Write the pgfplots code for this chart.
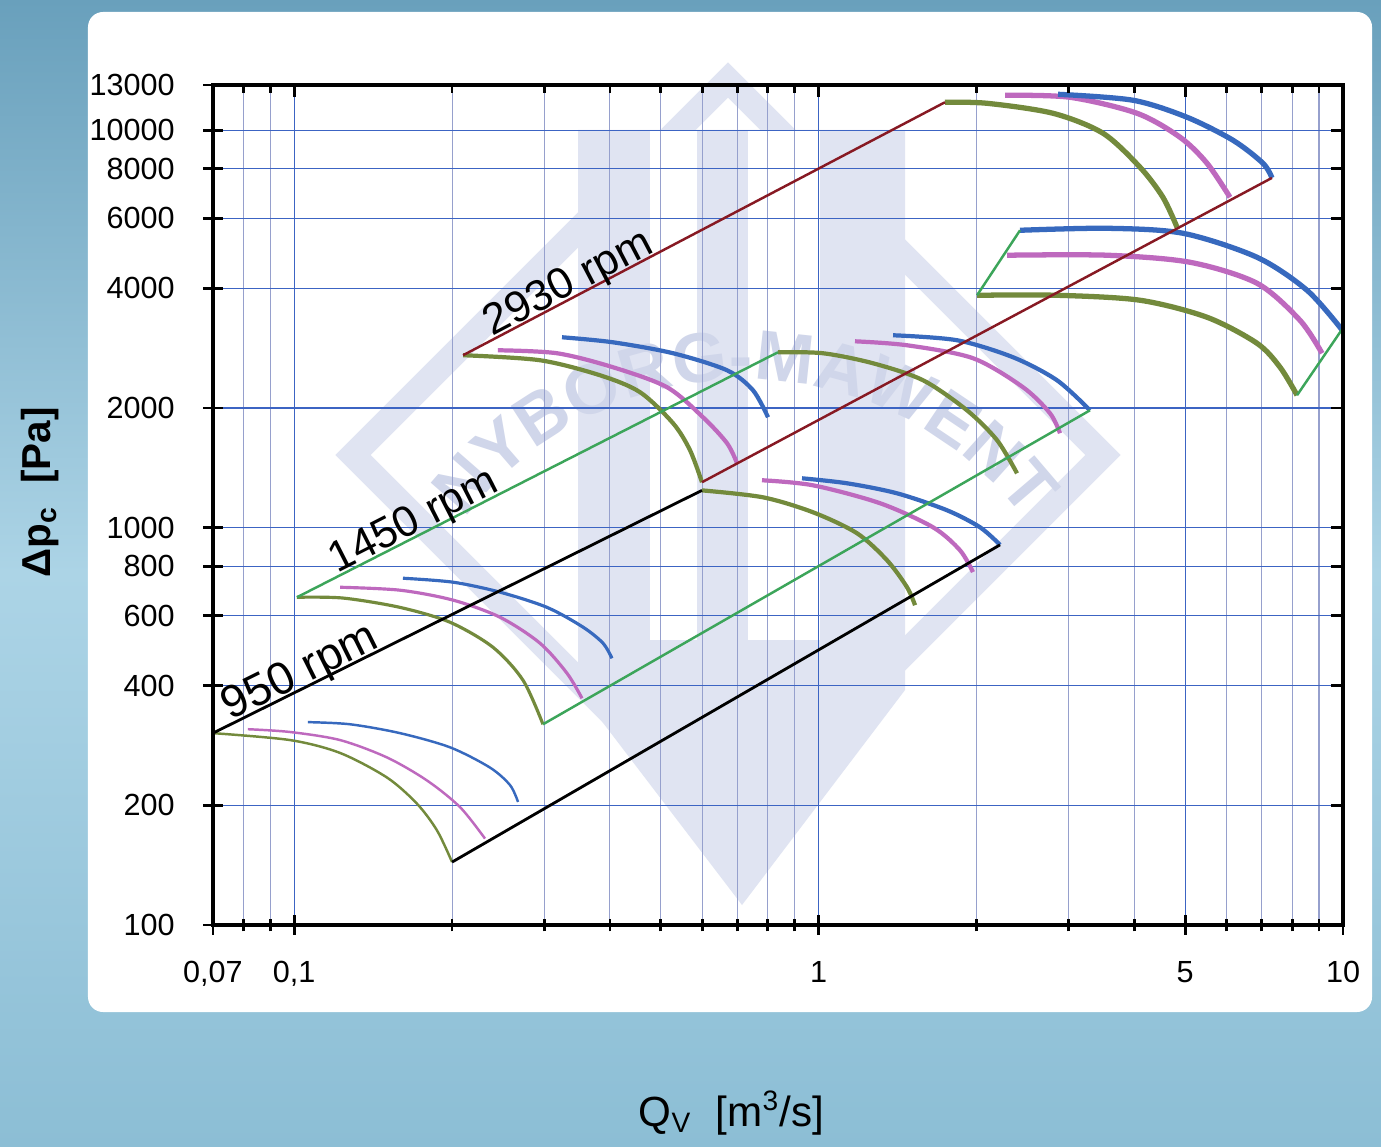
\documentclass[border=0pt]{standalone}
\usepackage{pgfplots}
\pgfplotsset{compat=1.18}
\usepackage{fontspec}
\setmainfont{Liberation Sans}
\usetikzlibrary{decorations.text}
\definecolor{olivec}{RGB}{115,138,60}
\definecolor{magc}{RGB}{190,105,190}
\definecolor{bluec}{RGB}{55,105,190}
\definecolor{greenl}{RGB}{60,165,90}
\definecolor{redl}{RGB}{135,25,35}
\definecolor{gridmin}{RGB}{150,160,205}
\definecolor{gridmaj}{RGB}{60,100,195}
\definecolor{bgtop}{RGB}{105,160,188}
\definecolor{bgmid}{RGB}{172,212,230}
\definecolor{bgbot}{RGB}{140,190,213}
\definecolor{wm}{RGB}{224,228,242}
\definecolor{wmtext}{RGB}{208,214,234}
\begin{document}
\begin{tikzpicture}
% background and panel
\shade[top color=bgtop, bottom color=bgbot, middle color=bgmid] (-21.3mm,-22.1mm) rectangle (116.8mm,92.5mm);
\fill[white, rounded corners=1.5mm] (-12.5mm,-8.7mm) rectangle (115.9mm,91.3mm);
% watermark
\draw[wm, line width=2.5mm, line join=miter] (14.0mm,47.0mm) -- (51.5mm,84.5mm) -- (89.0mm,47.0mm) -- (51.5mm,9.5mm) -- cycle;
\fill[wm] (36.5mm,79.5mm) -- (69.2mm,79.5mm) -- (69.2mm,23.5mm) -- (52.9mm,2.0mm) -- (36.5mm,23.5mm) -- cycle;
\fill[white] (43.7mm,28.5mm) rectangle (48.4mm,79.5mm);
\fill[white] (53.5mm,28.5mm) rectangle (60.7mm,79.5mm);
\path[decorate, decoration={text along path, text align=center,
  text={|\color{wmtext}\bfseries\fontsize{20}{20}\selectfont|NYBORG-MAWENT}}]
  (53.2mm,19.5mm) ++(160:35mm) arc[start angle=160, end angle=20, radius=35mm];
\begin{axis}[
  at={(0,0)}, anchor=south west,
  scale only axis, width=113mm, height=84mm,
  xmode=log, ymode=log,
  xmin=0.07, xmax=10, ymin=100, ymax=13000,
  xtick={0.07,0.1,1,5,10}, xticklabels={0{,}07,0{,}1,1,5,10},
  minor xtick={0.08,0.09,0.2,0.3,0.4,0.5,0.6,0.7,0.8,0.9,2,3,4,6,7,8,9},
  ytick={100,200,400,600,800,1000,2000,4000,6000,8000,10000,13000},
  yticklabels={100,200,400,600,800,1000,2000,4000,6000,8000,10000,13000},
  minor ytick={},
  xtick pos=left, ytick pos=left,
  grid=both,
  major grid style={gridmaj, line width=0.35pt},
  minor grid style={gridmin, line width=0.3pt},
  axis line style={black, line width=0.9pt},
  tick style={black, line width=0.8pt},
  tick align=center, major tick length=2mm, minor tick length=1.3mm,
  ticklabel style={font=\fontsize{8.7}{10}\selectfont},
  yticklabel style={xshift=-1.6mm},
  xticklabel style={yshift=-1.4mm},
  xlabel={Q\textsubscript{V}\ \ [m\textsuperscript{3}/s]},
  xlabel style={at={(axis description cs:0.459,-0.224)}, anchor=center, font=\fontsize{12}{14}\selectfont},
  ylabel={\bfseries Δp\textsubscript{c}\ \ [Pa]},
  ylabel style={at={(axis description cs:-0.153,0.515)}, anchor=center, font=\fontsize{11.5}{14}\selectfont},
]
% 950 rpm, small
\addplot[olivec, line width=0.7pt, smooth] coordinates {(0.0700,304) (0.0982,292) (0.1223,271) (0.1503,235) (0.1714,202) (0.1872,173) (0.2000,144)};
\addplot[magc, line width=0.7pt, smooth] coordinates {(0.0816,311) (0.0982,306) (0.1223,292) (0.1503,264) (0.1792,231) (0.2071,198) (0.2311,165)};
\addplot[bluec, line width=0.7pt, smooth] coordinates {(0.1062,324) (0.1278,320) (0.1591,304) (0.1982,280) (0.2362,249) (0.2579,225) (0.2672,204)};
% 1450 rpm, small
\addplot[olivec, line width=0.9pt, smooth] coordinates {(0.1012,668) (0.1239,665) (0.1591,630) (0.1982,578) (0.2393,500) (0.2731,413) (0.2981,320)};
\addplot[magc, line width=0.9pt, smooth] coordinates {(0.1223,708) (0.1591,696) (0.2009,657) (0.2469,595) (0.2942,512) (0.3313,430) (0.3538,372)};
\addplot[bluec, line width=0.9pt, smooth] coordinates {(0.1612,746) (0.2009,729) (0.2469,688) (0.3035,630) (0.3553,562) (0.3880,512) (0.4036,469)};
% 2930 rpm, small
\addplot[olivec, line width=1.2pt, smooth] coordinates {(0.2099,2716) (0.2942,2638) (0.3829,2418) (0.4565,2192) (0.5278,1831) (0.5686,1566) (0.5992,1301)};
\addplot[magc, line width=1.2pt, smooth] coordinates {(0.2446,2795) (0.3171,2747) (0.4054,2533) (0.5140,2256) (0.6019,1896) (0.6689,1631) (0.6990,1452)};
\addplot[bluec, line width=1.2pt, smooth] coordinates {(0.3241,3014) (0.4054,2927) (0.5278,2747) (0.6689,2489) (0.7497,2217) (0.8008,1896)};
% 950 rpm, large
\addplot[olivec, line width=1.2pt, smooth] coordinates {(0.5992,1241) (0.7834,1192) (0.9757,1093) (1.1837,968) (1.3502,828) (1.4745,708) (1.5271,638)};
\addplot[magc, line width=1.2pt, smooth] coordinates {(0.7800,1316) (0.9757,1278) (1.3094,1152) (1.6528,1002) (1.8606,877) (1.9700,773)};
\addplot[bluec, line width=1.2pt, smooth] coordinates {(0.9297,1331) (1.1330,1293) (1.4111,1220) (1.7572,1106) (2.0316,1002) (2.2180,905)};
% 1450 rpm, medium
\addplot[olivec, line width=1.2pt, smooth] coordinates {(0.8366,2763) (1.0195,2747) (1.2698,2592) (1.5817,2349) (1.9187,1974) (2.1890,1660) (2.3898,1370)};
\addplot[magc, line width=1.2pt, smooth] coordinates {(1.1733,2944) (1.4745,2877) (1.9700,2669) (2.4538,2256) (2.7623,1940) (2.8862,1728)};
\addplot[bluec, line width=1.2pt, smooth] coordinates {(1.3867,3049) (1.8363,2962) (2.3483,2684) (2.8483,2349) (3.2929,1974)};
% 2930 rpm, large
\addplot[olivec, line width=1.5pt, smooth] coordinates {(1.7420,11763) (2.0948,11692) (2.7989,11035) (3.4864,9828) (4.1020,8070) (4.5353,6783) (4.8253,5700)};
\addplot[magc, line width=1.5pt, smooth] coordinates {(2.2674,12247) (3.0160,12106) (4.0477,11035) (4.8900,9603) (5.5043,8260) (6.0882,6783)};
\addplot[bluec, line width=1.5pt, smooth] coordinates {(2.8609,12318) (3.9774,11900) (5.0424,10783) (6.1698,9437) (7.0372,8260) (7.3211,7590)};
% 1450 rpm, large
\addplot[olivec, line width=1.5pt, smooth] coordinates {(2.0051,3844) (2.8483,3844) (4.1020,3735) (5.5043,3384) (6.8549,2911) (7.5858,2533) (8.1733,2154)};
\addplot[magc, line width=1.5pt, smooth] coordinates {(2.2874,4848) (3.5481,4848) (5.1090,4654) (6.8549,4121) (8.2794,3325) (9.1201,2747)};
\addplot[bluec, line width=1.5pt, smooth] coordinates {(2.4218,5602) (3.5481,5667) (4.9547,5505) (6.8549,4791) (8.5392,3957) (9.95,3150)};
% speed lines
\addplot[black, line width=0.8pt] coordinates {(0.07,304) (0.5992,1241)};
\addplot[black, line width=0.8pt] coordinates {(0.2,144) (2.218,905)};
\addplot[greenl, line width=0.7pt] coordinates {(0.1012,668) (0.8366,2763)};
\addplot[greenl, line width=0.7pt] coordinates {(0.2981,320) (3.2929,1974)};
\addplot[greenl, line width=0.7pt] coordinates {(2.0051,3844) (2.4218,5602)};
\addplot[greenl, line width=0.7pt] coordinates {(8.1733,2154) (9.95,3150)};
\addplot[redl, line width=0.7pt] coordinates {(0.2099,2716) (1.7420,11763)};
\addplot[redl, line width=0.7pt] coordinates {(0.5992,1301) (7.3211,7590)};
% labels
\node[rotate=26.4, anchor=base, inner sep=0pt, font=\fontsize{13}{15}\selectfont] at (axis cs:0.1053,405) {950 rpm};
\node[rotate=27.0, anchor=base, inner sep=0pt, font=\fontsize{12.3}{15}\selectfont] at (axis cs:0.1730,977) {1450 rpm};
\node[rotate=27.7, anchor=base, inner sep=0pt, font=\fontsize{12.4}{15}\selectfont] at (axis cs:0.3417,3873) {2930 rpm};
\end{axis}
% ticks on the top and right side, pointing inwards
\begin{axis}[
  at={(0,0)}, anchor=south west,
  scale only axis, width=113mm, height=84mm,
  xmode=log, ymode=log,
  xmin=0.07, xmax=10, ymin=100, ymax=13000,
  xtick={0.1,1,5,10}, xticklabels={},
  minor xtick={0.08,0.09,0.2,0.3,0.4,0.5,0.6,0.7,0.8,0.9,2,3,4,6,7,8,9},
  ytick={200,400,600,800,1000,2000,4000,6000,8000,10000}, yticklabels={},
  minor ytick={},
  xtick pos=right, ytick pos=right,
  axis line style={black, line width=0.9pt},
  tick style={black, line width=0.8pt},
  tick align=inside, major tick length=1.2mm, minor tick length=0.8mm,
]
\end{axis}
\pgfresetboundingbox
\path (-21.3mm,-22.1mm) rectangle (116.8mm,92.5mm);
\end{tikzpicture}
\end{document}
